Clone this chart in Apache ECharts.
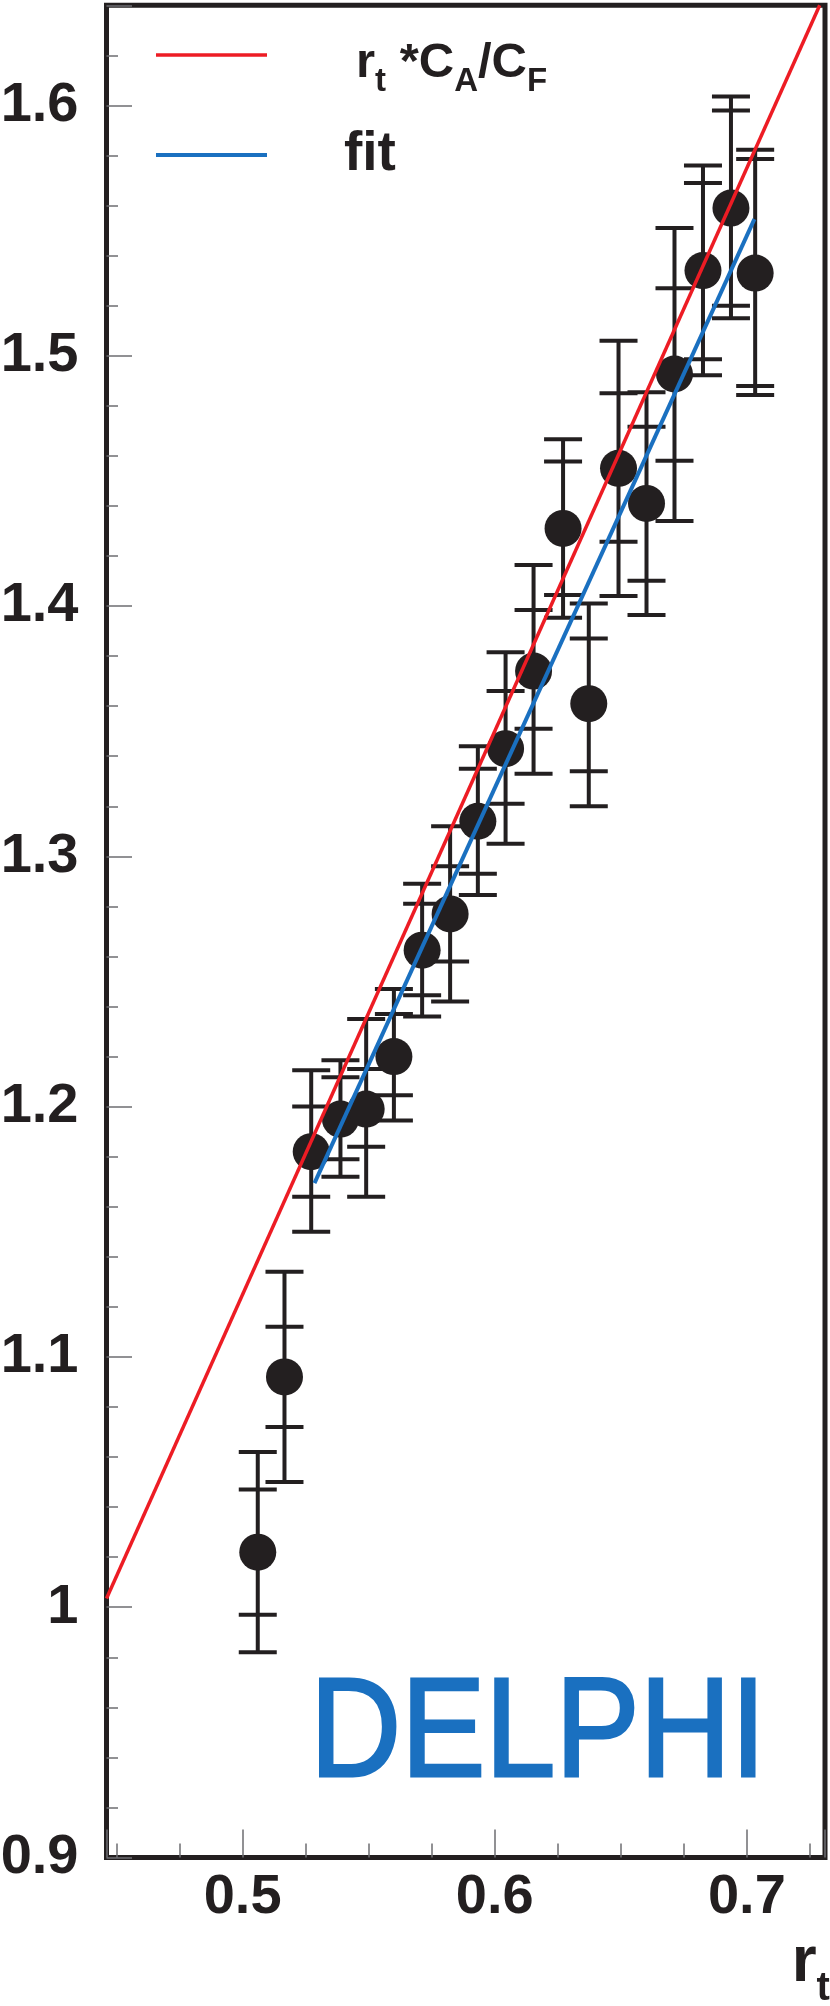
<!DOCTYPE html>
<html>
<head>
<meta charset="utf-8">
<script src="https://cdn.jsdelivr.net/npm/echarts@6.0.0/dist/echarts.min.js"></script>
<style>
html,body{margin:0;padding:0;background:#ffffff;}
#chart{width:830px;height:2006px;}
</style>
</head>
<body>
<div id="chart"></div>
<script>
// ---- data ----
const rt       = [0.5060, 0.5166, 0.5272, 0.5388, 0.5490, 0.5600, 0.5712, 0.5823, 0.5933, 0.6043, 0.6154, 0.6271, 0.6373, 0.6491, 0.6602, 0.6713, 0.6826, 0.6937, 0.7033];
const ratio    = [1.022, 1.092, 1.182, 1.195, 1.199, 1.220, 1.2625, 1.277, 1.314, 1.343, 1.374, 1.431, 1.361, 1.455, 1.441, 1.4927, 1.534, 1.559, 1.533];
const statHigh = [1.047, 1.112, 1.200, 1.2117, 1.215, 1.237, 1.281, 1.296, 1.335, 1.366, 1.3984, 1.4577, 1.387, 1.485, 1.4716, 1.527, 1.569, 1.598, 1.5786];
const statLow  = [0.997, 1.072, 1.164, 1.179, 1.184, 1.2045, 1.2445, 1.258, 1.293, 1.321, 1.351, 1.4044, 1.334, 1.4257, 1.4101, 1.458, 1.4986, 1.520, 1.4879];
const totHigh  = [1.062, 1.134, 1.2145, 1.2185, 1.235, 1.247, 1.289, 1.312, 1.344, 1.3815, 1.4164, 1.4666, 1.401, 1.506, 1.4854, 1.551, 1.576, 1.6036, 1.5823];
const totLow   = [0.982, 1.050, 1.150, 1.172, 1.164, 1.1944, 1.236, 1.242, 1.2845, 1.305, 1.333, 1.3953, 1.320, 1.404, 1.3964, 1.434, 1.4922, 1.515, 1.4843];

const curveX = [0.446, 0.7289];   // r_t * C_A/C_F line end points
const curveY = [1.0035, 1.640];
const fitX   = [0.5285, 0.7030];  // fit line end points
const fitY   = [1.1694, 1.5546];

const xTickLabels = ['0.5', '0.6', '0.7'];
const yTickLabels = ['0.9', '1', '1.1', '1.2', '1.3', '1.4', '1.5', '1.6'];

const seriesNames = ['rt*CA/CF', 'fit'];
const experiment = 'DELPHI';

// ---- styles ----
const DARK = '#231f20';
const RED = '#ed1c24';
const BLUE = '#1a70c0';
const FONT = '"Liberation Sans", Arial, Helvetica, sans-serif';

const chart = echarts.init(document.getElementById('chart'), null, {renderer: 'canvas'});

function fmtFrom(list) {
  return function (v) {
    const s = String(Math.round(v * 1000) / 1000);
    return list.indexOf(s) >= 0 ? s : '';
  };
}

const errData = rt.map((x, i) => [x, totHigh[i], statHigh[i], statLow[i], totLow[i]]);
const pts = rt.map((x, i) => [x, ratio[i]]);

const L1 = 100;  // legend line box height (first entry)
const LN = 151;  // axis-name line box height

const option = {
  animation: false,
  backgroundColor: '#ffffff',
  grid: {
    left: 106.5, top: 5.3, right: 5, bottom: 148.5,
    show: true, borderColor: DARK, borderWidth: 5, backgroundColor: 'transparent',
    containLabel: false, outerBoundsMode: 'none'
  },
  xAxis: {
    type: 'value', min: 0.446, max: 0.731, splitNumber: 3,
    axisLine: {show: false},
    splitLine: {show: false},
    axisTick: {show: true, inside: true, length: 28, lineStyle: {color: '#6d6e71', width: 1.5}},
    minorTick: {show: true, splitNumber: 4, length: 14, lineStyle: {color: '#6d6e71', width: 1.5}},
    axisLabel: {
      show: true, margin: 12, formatter: fmtFrom(xTickLabels),
      color: DARK, fontSize: 56, fontWeight: 'bold', fontFamily: FONT,
      showMinLabel: false, showMaxLabel: false
    },
    name: '{m|r}{s|t}',
    nameLocation: 'end',
    nameGap: 3,
    nameTextStyle: {
      align: 'right', verticalAlign: 'top', lineHeight: LN,
      rich: {
        m: {fontSize: 64, fontWeight: 'bold', fontFamily: FONT, color: DARK, lineHeight: LN, verticalAlign: 'bottom', padding: [0, 0, 13, 0]},
        s: {fontSize: 40, fontWeight: 'bold', fontFamily: FONT, color: DARK, lineHeight: LN, verticalAlign: 'bottom', padding: [0, 0, 0, 0]}
      }
    }
  },
  yAxis: {
    type: 'value', min: 0.9, max: 1.64, interval: 0.1,
    axisLine: {show: false},
    splitLine: {show: false},
    axisTick: {show: true, inside: true, length: 25.5, lineStyle: {color: '#6d6e71', width: 1.5}},
    minorTick: {show: true, splitNumber: 5, length: 11.5, lineStyle: {color: '#6d6e71', width: 1.5}},
    axisLabel: {
      show: true, margin: 28, formatter: fmtFrom(yTickLabels),
      color: DARK, fontSize: 56, fontWeight: 'bold', fontFamily: FONT,
      showMaxLabel: false
    }
  },
  legend: [
    {
      data: [seriesNames[0]], left: 156, top: 55 - L1 / 2, padding: 0, orient: 'vertical',
      icon: 'rect', itemWidth: 111, itemHeight: 3.5, selectedMode: false,
      formatter: () => '{sp| }{m|r}{s|t}{m| *C}{s|A}{m|/C}{s|F}',
      textStyle: {
        color: DARK, fontFamily: FONT, fontWeight: 'bold', fontSize: 49, lineHeight: L1,
        rich: {
          sp: {width: 84, fontSize: 49, lineHeight: L1},
          m: {fontSize: 49, fontWeight: 'bold', fontFamily: FONT, color: DARK, lineHeight: L1, verticalAlign: 'bottom', padding: [0, 0, 17.5, 0]},
          s: {fontSize: 33, fontWeight: 'bold', fontFamily: FONT, color: DARK, lineHeight: L1, verticalAlign: 'bottom', padding: [0, 0, 6.9, 0]}
        }
      }
    },
    {
      data: [seriesNames[1]], left: 156, top: 155 - 27.5, padding: 0, orient: 'vertical',
      icon: 'rect', itemWidth: 111, itemHeight: 4, selectedMode: false,
      formatter: () => '{sp| }{f|fit}',
      textStyle: {
        color: DARK, fontFamily: FONT, fontWeight: 'bold', fontSize: 55, lineHeight: 55,
        rich: {
          sp: {width: 72, fontSize: 55, lineHeight: 55},
          f: {fontSize: 55, fontWeight: 'bold', fontFamily: FONT, color: DARK, lineHeight: 55}
        }
      }
    }
  ],
  graphic: [
    {
      type: 'text', x: 310, y: 1737, scaleX: 0.895, z: 5,
      style: {
        text: experiment, font: '141px ' + FONT, fill: BLUE, stroke: BLUE, lineWidth: 3,
        align: 'left', verticalAlign: 'middle', textAlign: 'left', textVerticalAlign: 'middle'
      }
    }
  ],
  series: [
    {
      type: 'custom', name: 'errors', data: errData, z: 2,
      encode: {x: 0, y: [1, 4]},
      renderItem: function (params, api) {
        const x = api.value(0);
        const c = (v) => api.coord([x, v]);
        const hi = c(api.value(1)), sh = c(api.value(2)), sl = c(api.value(3)), lo = c(api.value(4));
        const half = 19;
        const st = {stroke: DARK, lineWidth: 4, fill: null};
        const children = [{type: 'line', shape: {x1: hi[0], y1: hi[1], x2: lo[0], y2: lo[1]}, style: st}];
        [hi, sh, sl, lo].forEach(p => children.push({
          type: 'line', shape: {x1: p[0] - half, y1: p[1], x2: p[0] + half, y2: p[1]}, style: st
        }));
        return {type: 'group', children: children};
      }
    },
    {
      type: 'scatter', name: 'data', data: pts, z: 3,
      symbol: 'circle', symbolSize: 37,
      itemStyle: {color: DARK, opacity: 1}
    },
    {
      type: 'line', name: seriesNames[0], z: 4,
      data: curveX.map((x, i) => [x, curveY[i]]),
      symbol: 'none', showSymbol: false, clip: true,
      lineStyle: {color: RED, width: 3.5}, itemStyle: {color: RED}
    },
    {
      type: 'line', name: seriesNames[1], z: 4,
      data: fitX.map((x, i) => [x, fitY[i]]),
      symbol: 'none', showSymbol: false, clip: true,
      lineStyle: {color: BLUE, width: 4}, itemStyle: {color: BLUE}
    }
  ]
};
chart.setOption(option);
</script>
</body>
</html>
